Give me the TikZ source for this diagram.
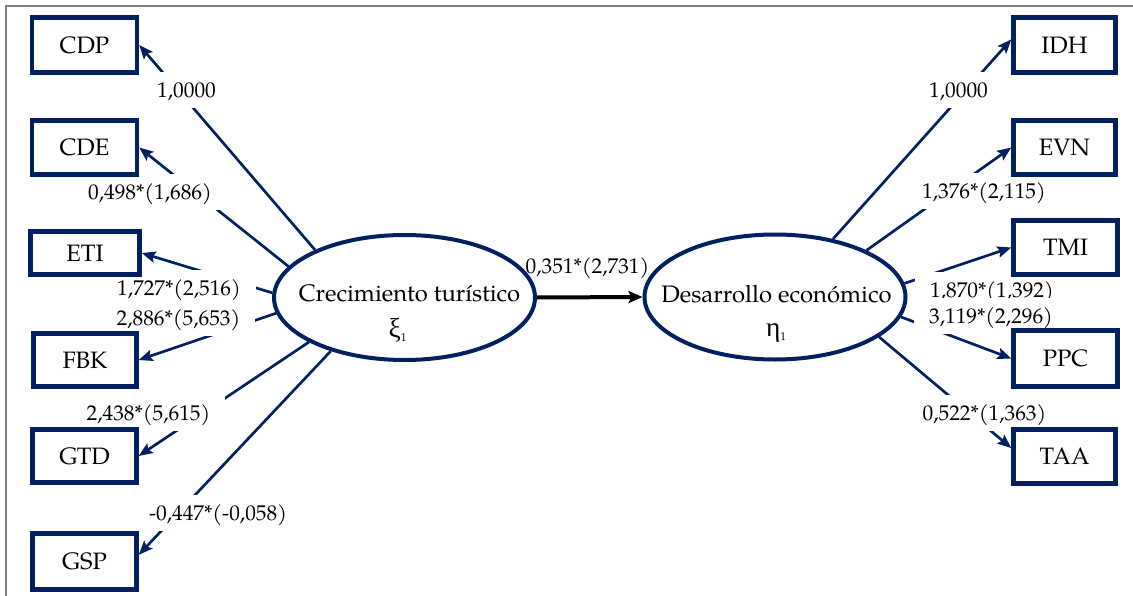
\documentclass[tikz,border=0pt]{standalone}
\usepackage{fontspec}
\setmainfont{TeX Gyre Pagella}
\newfontfamily\greekfont{Liberation Serif}
\usetikzlibrary{shapes.geometric,arrows.meta,backgrounds}
\definecolor{navy}{HTML}{002060}
\definecolor{framegray}{HTML}{7F7F7F}

\tikzset{
  varbox/.style={draw=navy, line width=3.3pt, fill=white, inner sep=0pt,
    font=\fontsize{17.8}{20}\selectfont},
  latent/.style={ellipse, draw=navy, line width=3pt, fill=white,
    minimum width=195.75pt, minimum height=93.75pt, inner sep=0pt},
  latenttext/.style={anchor=base, inner sep=0pt, font=\fontsize{17.9}{20}\selectfont},
  link/.style={draw=navy, line width=2pt,
    -{Stealth[length=10.5pt,width=8.5pt,inset=2pt]}},
  structural/.style={draw=black, line width=3pt,
    -{Stealth[length=10.5pt,width=9pt,inset=2pt]}},
  coef/.style={fill=white, anchor=base, inner xsep=11pt, inner ysep=0pt,
    text height=19pt, text depth=8pt, font=\fontsize{16}{18}\selectfont},
}

\newcommand{\latsym}[1]{{\greekfont\fontsize{20.5}{22}\selectfont #1}\raisebox{-3pt}{\fontsize{8.5}{9}\selectfont 1}}

\begin{document}
\begin{tikzpicture}[x=0.75pt, y=-0.75pt]
  \useasboundingbox (0,0) rectangle (1133,596);

  % latent variables
  \node[latent] (e1) at (404.5,297.5) {};
  \node[latent] (e2) at (775,297) {};
  \node[latenttext] (e1name) at (409.5,301) {Crecimiento turístico};
  \node[latenttext] (e1sym) at (397.5,337) {\latsym{ξ}};
  \node[latenttext] (e2name) at (776.5,302) {Desarrollo económico};
  \node[latenttext] (e2sym) at (776,336) {\latsym{η}};

  % indicators of the exogenous construct
  \node[varbox, minimum width=78.75pt, minimum height=41.25pt] (cdp) at (84.5,45) {CDP};
  \node[varbox, minimum width=78.75pt, minimum height=40.5pt] (cde) at (84.5,147.5) {CDE};
  \node[varbox, minimum width=81.75pt, minimum height=32.25pt] (eti) at (85,253) {ETI};
  \node[varbox, minimum width=77.25pt, minimum height=39.75pt] (fbk) at (85,360) {FBK};
  \node[varbox, minimum width=78pt, minimum height=39.75pt] (gtd) at (84.5,456) {GTD};
  \node[varbox, minimum width=78pt, minimum height=42pt] (gsp) at (84.5,561.5) {GSP};

  % indicators of the endogenous construct
  \node[varbox, minimum width=76.5pt, minimum height=41.25pt] (idh) at (1064.5,45) {IDH};
  \node[varbox, minimum width=76.5pt, minimum height=40.5pt] (evn) at (1064.5,147.5) {EVN};
  \node[varbox, minimum width=78pt, minimum height=40.5pt] (tmi) at (1065.5,247.5) {TMI};
  \node[varbox, minimum width=78pt, minimum height=42pt] (ppc) at (1065.5,358.5) {PPC};
  \node[varbox, minimum width=76.5pt, minimum height=40.5pt] (taa) at (1064.5,456.5) {TAA};

  \begin{pgfonlayer}{background}
    % frame
    \draw[framegray, line width=1.5pt] (6,596) -- (6,6) -- (1133,6);

    % loadings, left
    \draw[link] (e1.152.8) -- (cdp.east);
    \draw[link] (e1.165.9) -- (cde.east);
    \draw[link] (e1.178.5) -- (eti.east);
    \draw[link] (e1.187.2) -- (fbk.east);
    \draw[link] (e1.205.7) -- (gtd.east);
    \draw[link] (e1.216.9) -- (gsp.7);

    % loadings, right
    \draw[link] (e2.45.5) -- (idh.174);
    \draw[link] (e2.27.8) -- (evn.west);
    \draw[link] (e2.6.1) -- (tmi.west);
    \draw[link] (e2.351.9) -- (ppc.west);
    \draw[link] (e2.339) -- (taa.171);

    % structural path
    \draw[structural] (e1.east) -- (e2.west);

    % coefficients
    \node[coef] (c1) at (186.5,97) {1,0000};
    \node[coef] (c2) at (150,199) {0,498*(1,686)};
    \node[coef] (c3) at (179,295) {1,727*(2,516)};
    \node[coef] (c4) at (178.5,325) {2,886*(5,653)};
    \node[coef] (c5) at (148.5,420) {2,438*(5,615)};
    \node[coef] (c6) at (218,520) {-0,447*(-0,058)};
    \node[coef] (cm) at (587.5,273) {0,351*(2,731)};
    \node[coef] (d1) at (958.5,97) {1,0000};
    \node[coef] (d2) at (984,198) {1,376*(2,115)};
    \node[coef] (d3) at (992,297) {1,870*(1,392)};
    \node[coef] (d4) at (991,323) {3,119*(2,296)};
    \node[coef] (d5) at (984.5,420) {0,522*(1,363)};
  \end{pgfonlayer}
\end{tikzpicture}
\end{document}
